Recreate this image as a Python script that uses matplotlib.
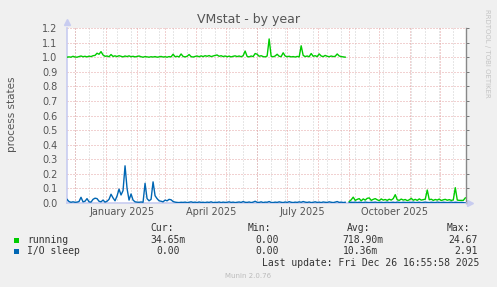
import numpy as np
import pandas as pd
import matplotlib
matplotlib.use('Agg')
import matplotlib.pyplot as plt
from matplotlib.patches import Rectangle

# ---------------- data (2-day samples starting 2024-11-23) ----------------
start_date = '2024-11-23'
end_time = '2025-12-26 16:55:58'

running = [
    1.000, 1.002, 1.000, 1.006, 1.001, 1.000, 1.004, 1.008, 1.003, 1.006,
    1.002, 1.007, 1.004, 1.010, 1.012, 1.027, 1.020, 1.038, 1.015, 1.006,
    1.008, 1.003, 1.018, 1.005, 1.009, 1.004, 1.010, 1.006, 1.002, 1.008,
    1.004, 1.009, 1.003, 1.006, 1.002, 1.005, 1.008, 1.003, 1.000, 1.004,
    1.002, 1.000, 1.003, 1.001, 1.004, 1.000, 1.002, 1.005, 1.001, 1.003,
    1.000, 1.004, 1.002, 1.020, 1.003, 1.006, 1.002, 1.022, 1.005, 1.002,
    1.006, 1.018, 1.004, 1.001, 1.005, 1.008, 1.003, 1.009, 1.004, 1.010,
    1.006, 1.011, 1.004, 1.008, 1.012, 1.015, 1.006, 1.010, 1.004, 1.008,
    1.003, 1.007, 1.002, 1.006, 1.009, 1.004, 1.008, 1.003, 1.010, 1.042,
    1.005, 1.002, 1.008, 1.004, 1.025, 1.020, 1.006, 1.010, 1.004, 1.002,
    1.008, 1.125, 1.006, 1.003, 1.008, 1.020, 1.006, 1.004, 1.030, 1.008,
    1.003, 1.006, 1.002, 1.004, 1.001, 1.005, 1.002, 1.078, 1.012, 1.004,
    1.008, 1.003, 1.025, 1.006, 1.010, 1.004, 1.022, 1.008, 1.004, 1.012,
    1.006, 1.003, 1.008, 1.004, 1.006, 1.022, 1.008, 1.004, 1.002, 1.000,
    np.nan,
    0.010, 0.022, 0.040, 0.018, 0.025, 0.030, 0.015, 0.028, 0.020,
    0.032, 0.035, 0.018, 0.025, 0.030, 0.022, 0.016, 0.028, 0.020, 0.024,
    0.018, 0.026, 0.020, 0.030, 0.057, 0.022, 0.018, 0.027, 0.020, 0.024,
    0.016, 0.022, 0.032, 0.019, 0.025, 0.018, 0.028, 0.020, 0.023, 0.026,
    0.089, 0.022, 0.026, 0.018, 0.024, 0.020, 0.027, 0.017, 0.022, 0.025,
    0.019, 0.023, 0.018, 0.021, 0.105, 0.020, 0.018, 0.018, 0.018, 0.035,
]

io_sleep = [
    0.025, 0.010, 0.005, 0.008, 0.005, 0.006, 0.010, 0.039, 0.008, 0.012,
    0.030, 0.008, 0.006, 0.025, 0.033, 0.030, 0.012, 0.008, 0.020, 0.006,
    0.012, 0.025, 0.060, 0.035, 0.015, 0.048, 0.095, 0.055, 0.085, 0.255,
    0.100, 0.020, 0.062, 0.020, 0.008, 0.006, 0.005, 0.007, 0.005, 0.135,
    0.030, 0.015, 0.025, 0.145, 0.050, 0.030, 0.015, 0.012, 0.008, 0.020,
    0.015, 0.025, 0.022, 0.010, 0.006, 0.004, 0.003, 0.005, 0.004, 0.006,
    0.003, 0.005, 0.008, 0.004, 0.006, 0.003, 0.007, 0.004, 0.005, 0.003,
    0.006, 0.004, 0.008, 0.003, 0.005, 0.004, 0.007, 0.003, 0.006, 0.004,
    0.005, 0.008, 0.004, 0.006, 0.003, 0.005, 0.007, 0.004, 0.010, 0.005,
    0.004, 0.007, 0.003, 0.006, 0.012, 0.005, 0.004, 0.008, 0.003, 0.006,
    0.005, 0.010, 0.004, 0.003, 0.006, 0.004, 0.008, 0.005, 0.003, 0.007,
    0.004, 0.009, 0.005, 0.003, 0.006, 0.004, 0.008, 0.005, 0.010, 0.006,
    0.004, 0.007, 0.003, 0.005, 0.008, 0.004, 0.006, 0.003, 0.007, 0.005,
    0.004, 0.008, 0.005, 0.003, 0.006, 0.010, 0.004, 0.006, 0.003, 0.005,
    np.nan,
    0.003, 0.005, 0.004, 0.006, 0.003, 0.005, 0.004, 0.003, 0.006,
    0.004, 0.003, 0.005, 0.004, 0.006, 0.003, 0.004, 0.005, 0.003, 0.004,
    0.006, 0.003, 0.004, 0.005, 0.003, 0.006, 0.004, 0.003, 0.005, 0.004,
    0.003, 0.005, 0.004, 0.006, 0.003, 0.004, 0.005, 0.003, 0.004, 0.006,
    0.004, 0.003, 0.005, 0.004, 0.003, 0.006, 0.004, 0.003, 0.005, 0.004,
    0.003, 0.004, 0.006, 0.003, 0.005, 0.004, 0.003, 0.004, 0.003, 0.000,
]

y_ticks = [0.0, 0.1, 0.2, 0.3, 0.4, 0.5, 0.6, 0.7, 0.8, 0.9, 1.0, 1.1, 1.2]
x_label_months = ['2025-01-01', '2025-04-01', '2025-07-01', '2025-10-01']
x_label_texts = ['January 2025', 'April 2025', 'July 2025', 'October 2025']

series_names = ['running', 'I/O sleep']
series_colors = ['#00CC00', '#0066B3']
cur_vals = ['34.65m', '0.00']
min_vals = ['0.00', '0.00']
avg_vals = ['718.90m', '10.36m']
max_vals = ['24.67', '2.91']

# ---------------- figure ----------------
W, H = 497, 287
fig = plt.figure(figsize=(W / 100, H / 100), dpi=100, facecolor='#F0F0F0')
L, R, T, B = 67, 466, 28, 203
ax = fig.add_axes([L / W, 1 - B / H, (R - L) / W, (B - T) / H])
ax.set_facecolor('white')

dates = pd.date_range(start_date, periods=len(running), freq='2D')
x0 = pd.Timestamp(start_date)
x1 = pd.Timestamp(end_time)
ax.set_xlim(x0, x1)
ax.set_ylim(0, 1.2)

# grid
dot = (0, (1, 2))
for m in pd.date_range('2024-12-01', x1, freq='14D'):
    ax.axvline(m, color='#CFCFCF', lw=0.72, ls=dot, zorder=1)
for m in pd.date_range('2024-12-01', x1, freq='MS'):
    ax.axvline(m, color='#E4A4A4', lw=0.72, ls=dot, zorder=1)
for v in y_ticks[1:]:
    ax.axhline(v, color='#E4A4A4', lw=0.72, ls=dot, zorder=1)

ax.plot(dates, running, color=series_colors[0], lw=1.0, zorder=3)
ax.plot(dates, io_sleep, color=series_colors[1], lw=1.0, zorder=3)

# axes styling
ax.set_yticks(y_ticks)
ax.set_yticklabels(['%.1f' % v for v in y_ticks])
ax.set_xticks([])
ax.tick_params(axis='y', left=False, right=True, labelleft=True, labelright=False,
               length=2, width=0.7, color='#777777', labelsize=7, labelcolor='#555555', pad=5)
ax.spines['top'].set_visible(False)
ax.spines['right'].set_color('#888888')
ax.spines['right'].set_linewidth(1.0)
ax.spines['left'].set_color('#C8CCF0')
ax.spines['left'].set_linewidth(1.2)
ax.spines['bottom'].set_color('#C8CCF0')
ax.spines['bottom'].set_linewidth(1.2)
ax.plot([0], [1.035], marker='^', color='#C8CCF0', ms=5, transform=ax.transAxes, clip_on=False)
ax.plot([1.01], [0], marker='>', color='#C8CCF0', ms=5, transform=ax.transAxes, clip_on=False)

xt = ax.get_xaxis_transform()
for m, t in zip(x_label_months, x_label_texts):
    ax.text(pd.Timestamp(m) + pd.Timedelta(days=15.5), -0.05, t, transform=xt,
            ha='center', va='center', fontsize=7, color='#555555')

def fx(x):
    return x / W

def fy(y):
    return 1 - y / H

fig.text(fx(249), fy(19), 'VMstat - by year', ha='center', va='center', fontsize=9, color='#555555')
fig.text(fx(12), fy(114), 'process states', rotation=90, ha='center', va='center', fontsize=7.5, color='#555555')
fig.text(fx(487), fy(53), 'RRDTOOL / TOBI OETIKER', rotation=270, ha='center', va='center', fontsize=5, color='#C4C4C4')

mono = 'DejaVu Sans Mono'
tc = '#333333'
fs = 7
for x, t in zip([150, 248, 347, 447], ['Cur:', 'Min:', 'Avg:', 'Max:']):
    fig.text(fx(x), fy(228), t, ha='left', va='center', family=mono, fontsize=fs, color=tc)

rows_y = [240, 251]
cur_x = [150, 156]
min_x = [255, 255]
avg_x = [342, 343]
max_x = [448, 454]
for i in range(2):
    yy = rows_y[i]
    fig.patches.append(Rectangle((fx(14), fy(yy + 2.5)), 5 / W, 5 / H, transform=fig.transFigure,
                                 facecolor=series_colors[i], edgecolor='none'))
    fig.text(fx(27), fy(yy), series_names[i], ha='left', va='center', family=mono, fontsize=fs, color=tc)
    fig.text(fx(cur_x[i]), fy(yy), cur_vals[i], ha='left', va='center', family=mono, fontsize=fs, color=tc)
    fig.text(fx(min_x[i]), fy(yy), min_vals[i], ha='left', va='center', family=mono, fontsize=fs, color=tc)
    fig.text(fx(avg_x[i]), fy(yy), avg_vals[i], ha='left', va='center', family=mono, fontsize=fs, color=tc)
    fig.text(fx(max_x[i]), fy(yy), max_vals[i], ha='left', va='center', family=mono, fontsize=fs, color=tc)

fig.text(fx(262), fy(263), 'Last update: Fri Dec 26 16:55:58 2025', ha='left', va='center',
         family=mono, fontsize=fs, color=tc)
fig.text(fx(248), fy(276), 'Munin 2.0.76', ha='center', va='center', fontsize=5, color='#BBBBBB')

fig.savefig('out.png', dpi=100, facecolor=fig.get_facecolor())
